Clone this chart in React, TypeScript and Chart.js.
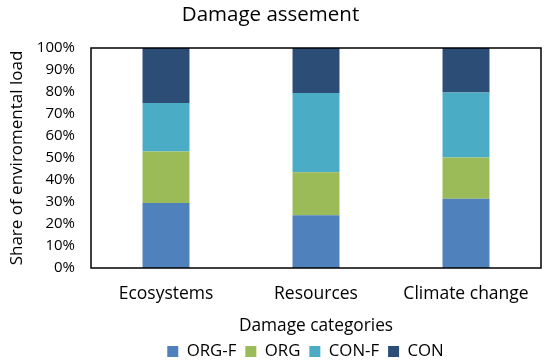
import React, { useEffect, useRef } from "react";
import { Chart, registerables } from "chart.js";

Chart.register(...registerables);

const categories = ["Ecosystems", "Resources", "Climate change"];
const orgF = [29.5, 24, 31.5];
const org = [23.5, 19.5, 18.7];
const conF = [22, 36, 29.6];
const con = [25, 20.5, 20.2];
const seriesNames = ["ORG-F", "ORG", "CON-F", "CON"];
const seriesColors = ["#4F81BD", "#9BBB59", "#4BACC6", "#2C4D75"];
const yTicks = [0, 10, 20, 30, 40, 50, 60, 70, 80, 90, 100];

const FONT = "'Open Sans', sans-serif";
const PLOT_BOTTOM = 268;
const BOTTOM_PAD = -6;

const boxPlugin = {
  id: "boxPlugin",
  afterLayout(chart: any) {
    if (chart.legend) {
      chart.legend.left += 35;
      chart.legend.right += 35;
    }
  },
  afterDatasetsDraw(chart: any) {
    const { ctx, chartArea } = chart;
    ctx.save();
    ctx.strokeStyle = "#000";
    ctx.lineWidth = 1.5;
    ctx.strokeRect(chartArea.left, chartArea.top, chartArea.right - chartArea.left, chartArea.bottom - chartArea.top);
    ctx.restore();
  },
};

export default function App() {
  const ref = useRef<HTMLCanvasElement>(null);
  useEffect(() => {
    document.body.style.margin = "0";
    const values = [orgF, org, conF, con];
    const chart = new Chart(ref.current!, {
      type: "bar",
      data: {
        labels: categories,
        datasets: seriesNames.map((n, i) => ({
          label: n,
          data: values[i],
          backgroundColor: seriesColors[i],
          borderWidth: 0,
          barPercentage: 0.313,
          categoryPercentage: 1,
        })),
      },
      options: {
        responsive: false,
        animation: false,
        layout: { padding: { left: 0, right: 9, top: 0, bottom: BOTTOM_PAD } },
        plugins: {
          title: {
            display: true,
            text: "Damage assement",
            color: "#000",
            font: { family: FONT, size: 20.5, weight: "normal" },
            padding: { top: 3, bottom: 20.4 },
          },
          legend: {
            position: "bottom",
            labels: {
              color: "#000",
              font: { family: FONT, size: 16.8 },
              boxWidth: 11,
              boxHeight: 11,
              padding: 9,
            },
          },
          tooltip: { enabled: false },
        },
        scales: {
          x: {
            stacked: true,
            grid: { display: false, drawTicks: false },
            border: { display: false },
            ticks: { color: "#000", font: { family: FONT, size: 17.5 }, padding: 16 },
            title: {
              display: true,
              text: "Damage categories",
              color: "#000",
              font: { family: FONT, size: 17.3 },
              padding: { top: 4, bottom: -2 },
            },
            afterFit: (s: any) => {
              const lh = s.chart.legend ? s.chart.legend.height : 0;
              s.height = 364 - PLOT_BOTTOM - lh - BOTTOM_PAD;
            },
          },
          y: {
            stacked: true,
            min: 0,
            max: 100,
            grid: { display: false, drawTicks: false },
            border: { display: false },
            afterBuildTicks: (s: any) => {
              s.ticks = yTicks.map((v) => ({ value: v }));
            },
            ticks: {
              color: "#000",
              font: { family: FONT, size: 15 },
              padding: 16,
              callback: (v: any) => v + "%",
            },
            title: {
              display: true,
              text: "Share of enviromental load",
              color: "#000",
              font: { family: FONT, size: 17 },
              padding: { top: 7, bottom: 0 },
            },
            afterFit: (s: any) => {
              s.width = 91;
            },
          },
        },
      },
      plugins: [boxPlugin],
    });
    return () => chart.destroy();
  }, []);
  return (
    <div style={{ position: "absolute", left: 0, top: 0, width: 550, height: 364, background: "#fff" }}>
      <canvas ref={ref} width={550} height={364} />
    </div>
  );
}
